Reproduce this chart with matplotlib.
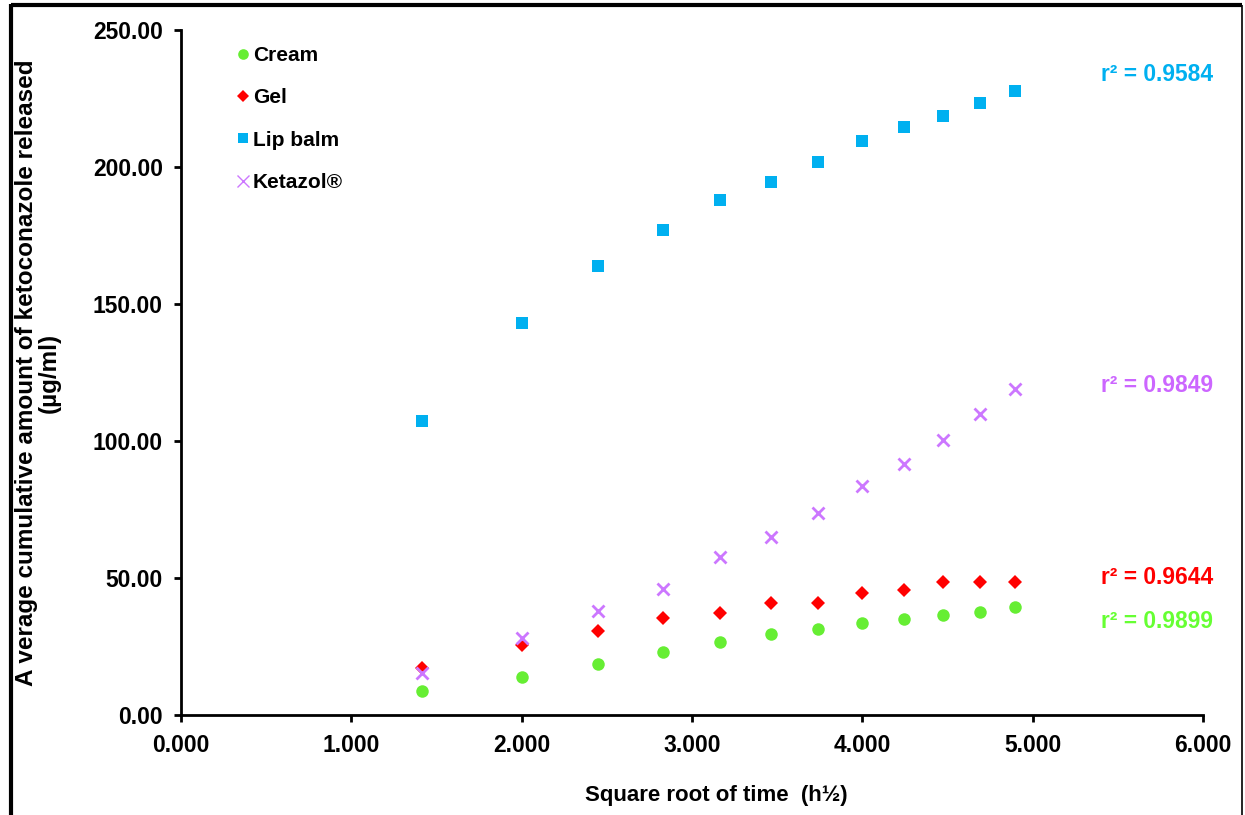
import numpy as np
import matplotlib
matplotlib.use("Agg")
import matplotlib.pyplot as plt
from matplotlib.lines import Line2D

plt.rcParams['font.family'] = ['Liberation Sans', 'DejaVu Sans']
plt.rcParams['font.weight'] = 'bold'

# Square root of sampling time (h^1/2)
sqrt_time = [1.414, 2.000, 2.449, 2.828, 3.162, 3.464, 3.742, 4.000, 4.243, 4.472, 4.690, 4.899]

cream = [8.8, 13.9, 18.6, 23.0, 26.6, 29.6, 31.4, 33.6, 35.0, 36.5, 37.6, 39.4]
gel = [17.2, 25.5, 30.7, 35.4, 37.2, 40.9, 41.0, 44.5, 45.6, 48.5, 48.5, 48.5]
lip_balm = [107.3, 143.0, 163.9, 177.0, 188.0, 194.5, 202.0, 209.5, 214.6, 218.6, 223.4, 227.7]
ketazol = [15.3, 28.1, 38.0, 46.0, 57.7, 65.0, 73.7, 83.6, 91.6, 100.4, 109.9, 119.0]

series_names = ["Cream", "Gel", "Lip balm", "Ketazol®"]
r_squared = ["0.9899", "0.9644", "0.9584", "0.9849"]
r2_label_y = [34.0, 50.0, 233.6, 120.4]

x_ticks = [0, 1, 2, 3, 4, 5, 6]
y_ticks = [0, 50, 100, 150, 200, 250]

colors = ["#66EE33", "#FF0000", "#00B0F0", "#CC77FF"]
text_colors = ["#66FF33", "#FF0000", "#00B0F0", "#CC66FF"]
markers = ["o", "D", "s", "x"]
sizes = [9, 6.8, 9, 8.0]

W, H = 1245, 815
fig = plt.figure(figsize=(W / 100, H / 100), dpi=100)
ax = fig.add_axes([181 / W, 1 - 715 / H, (1203 - 181) / W, (715 - 30) / H])

handles = []
for name, vals, c, m, s in zip(series_names, [cream, gel, lip_balm, ketazol], colors, markers, sizes):
    kw = dict(linestyle='none', marker=m, markersize=s, color=c)
    kw['markeredgewidth'] = 2.0 if m == 'x' else 0
    ax.plot(sqrt_time, vals, clip_on=False, **kw)
    # legend key: slightly smaller, thin cross for the x marker
    hk = dict(linestyle='none', marker=m, color=c, label=name)
    if m == 'x':
        hk.update(markersize=8, markeredgewidth=1.0)
    else:
        hk.update(markersize=s * 0.85, markeredgewidth=0)
    handles.append(Line2D([], [], **hk))

for r2, yv, c in zip(r_squared, r2_label_y, text_colors):
    ax.text(6.06, yv, "r² = " + r2, color=c, fontsize=16.4, fontweight='bold',
            ha='right', va='center', clip_on=False)

ax.set_xlim(0, 6)
ax.set_ylim(0, 250)
ax.set_xticks(x_ticks)
ax.set_yticks(y_ticks)
ax.set_xticklabels([f"{v:.3f}" for v in x_ticks])
ax.set_yticklabels([f"{v:.2f}" for v in y_ticks])
ax.tick_params(axis='both', direction='out', length=5, width=2, labelsize=16.5)
ax.tick_params(axis='x', pad=9)
ax.tick_params(axis='y', pad=8)

for side in ['top', 'right']:
    ax.spines[side].set_visible(False)
for side in ['left', 'bottom']:
    ax.spines[side].set_linewidth(2)

ax.set_xlabel("Square root of time  (h½)", fontsize=16, fontweight='bold', va='top')
ax.xaxis.set_label_coords((716 - 181) / (1203 - 181), -(785 - 715) / (715 - 30))
ax.set_ylabel("A verage cumulative amount of ketoconazole released\n(µg/ml)",
              fontsize=17.5, fontweight='bold', linespacing=1.0)
ax.yaxis.set_label_coords(-(181 - 61) / (1203 - 181), 0.5)

leg = ax.legend(handles=handles, loc='upper left', bbox_to_anchor=(237 / W, 1 - 46 / H),
                bbox_transform=fig.transFigure, frameon=False, fontsize=15,
                handlelength=0.55, handletextpad=0.2, labelspacing=1.12,
                borderaxespad=0, borderpad=0)

# outer frame around the figure
frame_kw = dict(transform=fig.transFigure, color='black', solid_capstyle='butt')
fig.add_artist(Line2D([11 / W, 11 / W], [0, 1 - 4 / H], linewidth=3, **frame_kw))
fig.add_artist(Line2D([11 / W, 1242 / W], [1 - 5 / H, 1 - 5 / H], linewidth=3, **frame_kw))
fig.add_artist(Line2D([1242 / W, 1242 / W], [0, 1 - 5 / H], linewidth=1.2, **frame_kw))

fig.savefig("out.png", dpi=100)
